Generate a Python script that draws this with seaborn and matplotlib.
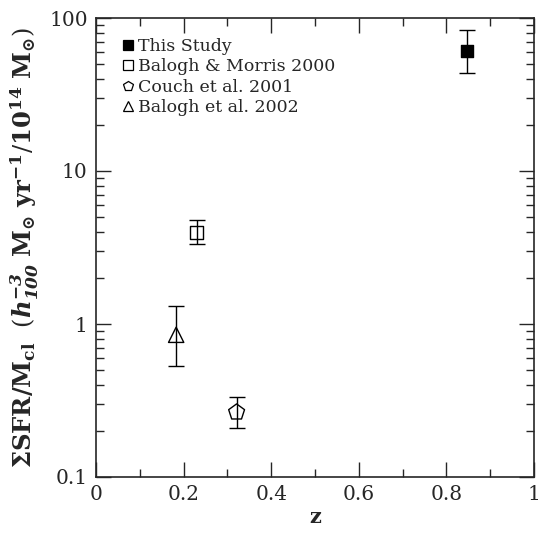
import matplotlib
matplotlib.use("Agg")
import matplotlib.pyplot as plt
import seaborn as sns
import pandas as pd
from matplotlib.lines import Line2D
from matplotlib.ticker import FixedLocator, NullFormatter, LogLocator

studies = ["This Study", "Balogh & Morris 2000", "Couch et al. 2001", "Balogh et al. 2002"]
z = [0.847, 0.230, 0.321, 0.183]
sfr = [61.0, 3.95, 0.265, 0.85]
err_lo = [44.0, 3.32, 0.208, 0.528]
err_hi = [84.0, 4.78, 0.333, 1.31]
markers = ["s", "s", "p", "^"]
filled = [True, False, False, False]
msizes = [9, 9, 12, 11]

df = pd.DataFrame({"study": studies, "z": z, "sfr": sfr})

sns.set_style("ticks")
plt.rcParams["font.family"] = ["DejaVu Serif"]
plt.rcParams["mathtext.fontset"] = "dejavuserif"

fig = plt.figure(figsize=(5.41, 5.33), dpi=100)
ax = fig.add_axes([96/541, 1 - 477/533, 438/541, 459/533])

for i, row in df.iterrows():
    ax.errorbar(row["z"], row["sfr"],
                yerr=[[row["sfr"] - err_lo[i]], [err_hi[i] - row["sfr"]]],
                fmt="none", ecolor="black", elinewidth=1.0, capsize=6, capthick=1.0, zorder=2)

for i, row in df.iterrows():
    sns.scatterplot(x=[row["z"]], y=[row["sfr"]], ax=ax, marker=markers[i],
                    s=msizes[i] ** 2,
                    facecolor="black" if filled[i] else "none",
                    edgecolor="black", linewidth=1.0, zorder=3, legend=False)

ax.set_yscale("log")
ax.set_xlim(0, 1)
ax.set_ylim(0.1, 100)
ax.set_xticks([0, 0.2, 0.4, 0.6, 0.8, 1.0])
ax.set_xticklabels(["0", "0.2", "0.4", "0.6", "0.8", "1"])
ax.xaxis.set_minor_locator(FixedLocator([0.1, 0.3, 0.5, 0.7, 0.9]))
ax.set_yticks([0.1, 1, 10, 100])
ax.set_yticklabels(["0.1", "1", "10", "100"])
ax.yaxis.set_minor_locator(LogLocator(base=10, subs=range(2, 10)))
ax.yaxis.set_minor_formatter(NullFormatter())

ax.tick_params(which="both", direction="in", top=True, right=True, width=1.0)
ax.tick_params(which="major", length=11, labelsize=14.5, pad=6)
ax.tick_params(which="minor", length=6)
for s in ax.spines.values():
    s.set_linewidth(1.2)

ax.set_xlabel("z", fontsize=15, fontweight="bold", labelpad=2)
ax.set_ylabel(r"$\mathbf{\Sigma SFR/M_{cl}}$  $(\mathbfit{h}_{\mathbfit{100}}^{\mathbfit{-3}}\ \mathbf{M_{\odot}}\ \mathbf{yr}^{\mathbf{-1}}/\mathbf{10}^{\mathbf{14}}\ \mathbf{M_{\odot}})$",
              fontsize=17.5, labelpad=6)

handles = []
for i in range(len(studies)):
    handles.append(Line2D([], [], linestyle="none", marker=markers[i], markersize=7,
                          markerfacecolor="black" if filled[i] else "none",
                          markeredgecolor="black", markeredgewidth=0.9, label=studies[i]))
ax.legend(handles=handles, loc="upper left", bbox_to_anchor=(0.045, 0.972), frameon=False,
          fontsize=12.5, handlelength=0.6, handletextpad=0.3, labelspacing=0.2, borderaxespad=0)

fig.savefig("out.png", dpi=100)
